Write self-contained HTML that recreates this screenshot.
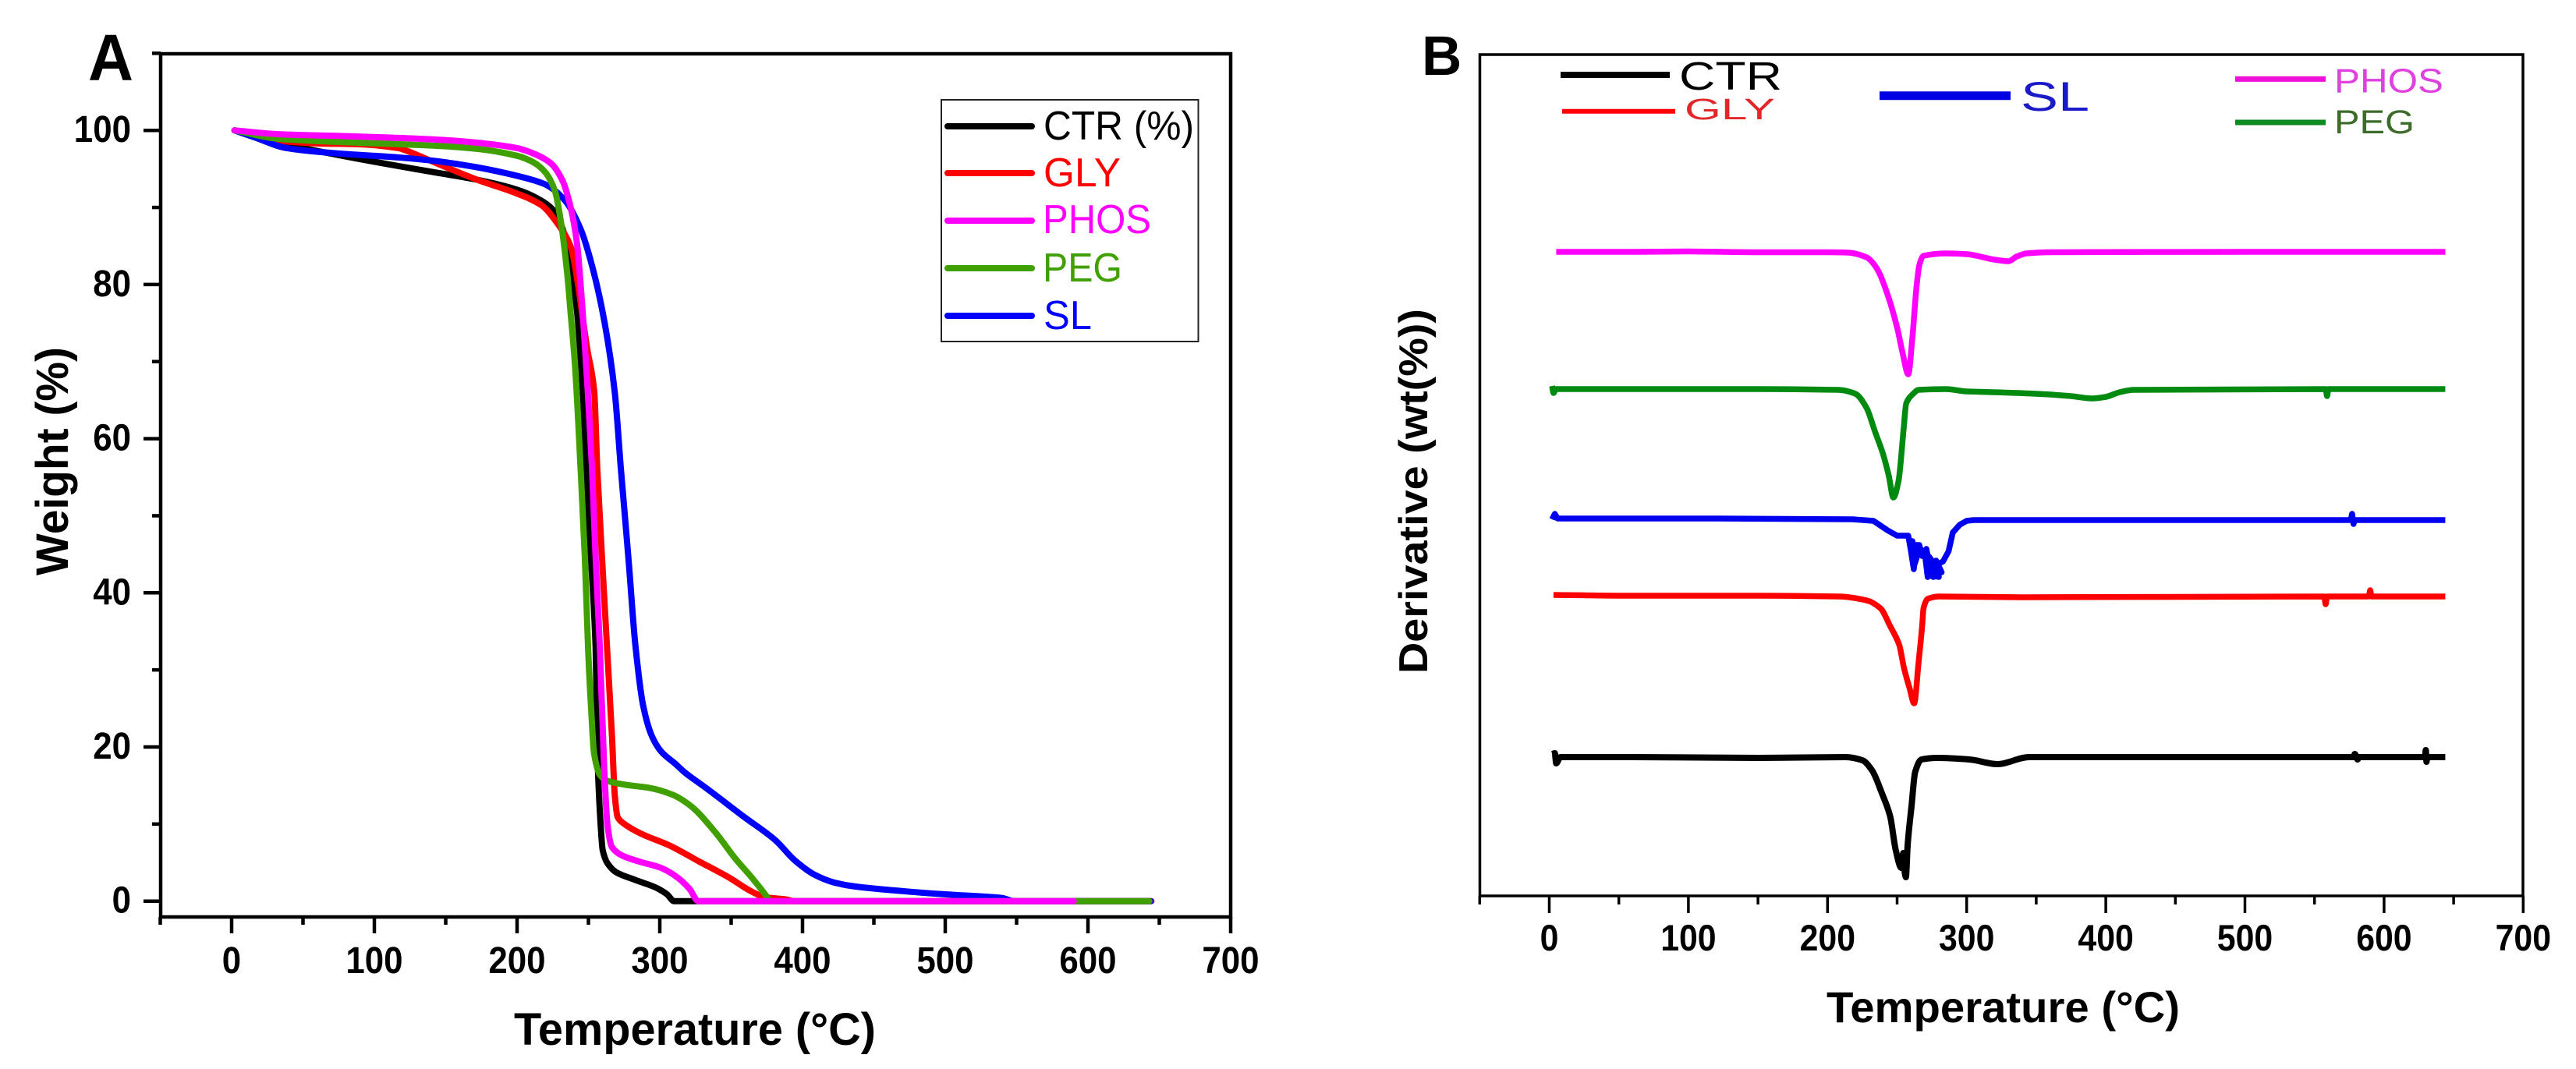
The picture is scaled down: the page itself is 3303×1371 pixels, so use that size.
<!DOCTYPE html>
<html lang="en">
<head>
<meta charset="utf-8">
<title>TGA and DTG curves</title>
<style>
html,body{margin:0;padding:0;background:#fff;}
svg{display:block;}
text{font-family:"Liberation Sans",sans-serif;}
</style>
</head>
<body>
<svg id="figure" xmlns="http://www.w3.org/2000/svg" width="3303" height="1371" viewBox="0 0 3303 1371">
  <rect width="3303" height="1371" fill="#fff"/>

  <g id="panel-a">
    <text x="113" y="103" font-size="84" font-weight="bold" textLength="58" lengthAdjust="spacingAndGlyphs">A</text>
    <rect x="206" y="69" width="1372" height="1107" fill="none" stroke="#000" stroke-width="4.5"/>
    <g id="a-ticks"></g>
    <g id="a-series"></g>
    <text x="659" y="1340" font-size="58" font-weight="bold" textLength="464" lengthAdjust="spacingAndGlyphs">Temperature (°C)</text>
    <text transform="translate(87,738) rotate(-90)" x="0" y="0" font-size="58" font-weight="bold" textLength="293" lengthAdjust="spacingAndGlyphs">Weight (%)</text>
    <g>
      <rect x="1207" y="128" width="329.5" height="310" fill="#fff" stroke="#222" stroke-width="2"/>
      <line x1="1215" x2="1323" y1="162" y2="162" stroke="#000" stroke-width="8" stroke-linecap="round"/>
      <text x="1338" y="179" font-size="52" fill="#000" textLength="193" lengthAdjust="spacingAndGlyphs">CTR (%)</text>
      <line x1="1215" x2="1323" y1="222" y2="222" stroke="#ff0000" stroke-width="8" stroke-linecap="round"/>
      <text x="1338" y="239" font-size="52" fill="#ff0000" textLength="99" lengthAdjust="spacingAndGlyphs">GLY</text>
      <line x1="1215" x2="1323" y1="283" y2="283" stroke="#ff00ff" stroke-width="8" stroke-linecap="round"/>
      <text x="1337" y="299" font-size="52" fill="#ff00ff" textLength="139" lengthAdjust="spacingAndGlyphs">PHOS</text>
      <line x1="1215" x2="1323" y1="344" y2="344" stroke="#40a000" stroke-width="8" stroke-linecap="round"/>
      <text x="1337" y="361" font-size="52" fill="#40a000" textLength="102" lengthAdjust="spacingAndGlyphs">PEG</text>
      <line x1="1215" x2="1323" y1="405" y2="405" stroke="#0000ff" stroke-width="8" stroke-linecap="round"/>
      <text x="1338" y="422" font-size="52" fill="#0000ff" textLength="62" lengthAdjust="spacingAndGlyphs">SL</text>
    </g>
  </g>

  <g id="panel-b">
    <text x="1823" y="96" font-size="71" font-weight="bold">B</text>
    <rect x="1897.5" y="70" width="1337.5" height="1079" fill="none" stroke="#000" stroke-width="3.5"/>
    <g id="b-ticks"></g>
    <g id="b-series"></g>
    <text x="2342" y="1311" font-size="56" font-weight="bold" textLength="453" lengthAdjust="spacingAndGlyphs">Temperature (°C)</text>
    <text transform="translate(1830,864) rotate(-90)" x="0" y="0" font-size="52" font-weight="bold" textLength="468" lengthAdjust="spacingAndGlyphs">Derivative (wt(%))</text>
    <g>
      <line x1="2001" x2="2141" y1="96" y2="96" stroke="#000" stroke-width="8"/>
      <text x="2153" y="115" font-size="51" fill="#000" textLength="132" lengthAdjust="spacingAndGlyphs">CTR</text>
      <line x1="2003" x2="2148" y1="142.7" y2="142.7" stroke="#ff0000" stroke-width="6"/>
      <text x="2160" y="153" font-size="38" fill="#e3262a" textLength="116" lengthAdjust="spacingAndGlyphs">GLY</text>
      <line x1="2410" x2="2578" y1="122.7" y2="122.7" stroke="#0000e0" stroke-width="11"/>
      <text x="2591" y="142" font-size="53" fill="#1a1ac8" textLength="88" lengthAdjust="spacingAndGlyphs">SL</text>
      <line x1="2866" x2="2982" y1="101.4" y2="101.4" stroke="#f010d8" stroke-width="7"/>
      <text x="2993" y="118.6" font-size="44" fill="#e040e0" textLength="140" lengthAdjust="spacingAndGlyphs">PHOS</text>
      <line x1="2866" x2="2982" y1="157" y2="157" stroke="#0d8a20" stroke-width="7"/>
      <text x="2993" y="171" font-size="43" fill="#3d6b2a" textLength="103" lengthAdjust="spacingAndGlyphs">PEG</text>
    </g>
  </g>
</svg>

<script>
// ----- Shared axis tick data -----
const xMajorTicks = [0, 100, 200, 300, 400, 500, 600, 700];
const xMinorTicks = [-50, 50, 150, 250, 350, 450, 550, 650];
const yMajorTicks = [0, 20, 40, 60, 80, 100];
const yMinorTicks = [10, 30, 50, 70, 90, 110];

// ----- Panel A: weight (%) vs temperature -----
const ctrTempA = [2, 16, 33, 74.7, 116, 144, 172, 200, 214, 226.6, 235, 239, 242, 246, 248.6, 251.8, 255, 256.6, 258, 260, 263.4, 269.4, 282, 296.7, 305, 310, 643];
const ctrWeightA = [100, 99.3, 98.4, 96.8, 95.4, 94.5, 93.6, 92.3, 91.2, 89.4, 85.3, 80.8, 76.5, 66.3, 56.2, 44.6, 33, 17.5, 11.7, 6.6, 4.9, 3.75, 2.8, 1.8, 0.9, 0, 0];

const glyTempA = [2, 27, 60.8, 88.7, 116.5, 130, 144, 172, 200, 217, 228, 237.8, 242, 249, 254, 256.2, 259.5, 263, 266.5, 268.5, 270.5, 273.8, 286.3, 307, 328, 349, 363.7, 374, 389, 394, 644.5];
const glyWeightA = [100, 98.8, 98.3, 98.2, 97.7, 96.8, 95.7, 93.6, 91.8, 90.3, 88, 84.8, 80.8, 71.8, 66.3, 56.2, 44.6, 33, 21.4, 13.6, 10.9, 10.2, 8.8, 7.2, 5.1, 3, 1.3, 0.5, 0.2, 0, 0];

const slTempA = [2, 16, 38.5, 74.7, 116, 144, 172, 200, 219.6, 233.6, 244.7, 253, 261.5, 268.5, 272.7, 278, 283, 288.4, 294.5, 301, 311, 317.5, 333, 358.5, 381, 394.5, 408.7, 422.4, 436.6, 470, 498, 540, 548, 644];
const slWeightA = [100, 99.1, 97.7, 97, 96.5, 96, 95.2, 94.1, 93, 90.9, 87.1, 82.1, 74.9, 65.9, 56.2, 44.6, 33, 25.3, 21.4, 19.4, 17.8, 16.7, 14.6, 11, 7.9, 5.3, 3.4, 2.4, 1.9, 1.3, 0.9, 0.4, 0, 0];

const pegTempA = [2, 33, 88.7, 144, 172, 200, 211, 219.6, 226.6, 230.8, 235, 237.5, 240.6, 244.5, 247.5, 249.7, 251.8, 254, 258, 263.4, 275.8, 292.6, 309, 322, 338.6, 353, 365.6, 376, 377, 643];
const pegWeightA = [100, 98.9, 98.4, 98, 97.6, 96.7, 95.9, 94.6, 92.1, 88, 81.7, 76.4, 69.5, 56.2, 44.6, 33, 25.3, 19.1, 16.4, 15.6, 15.1, 14.7, 13.8, 12.3, 9, 5.5, 2.8, 0.3, 0, 0];

const phosTempA = [2, 33, 88.7, 144, 172, 200, 214, 223.8, 232, 237.8, 242, 246, 249.5, 252.5, 255, 258, 261, 263.4, 266.5, 273.8, 286.3, 301, 311.5, 320.8, 327, 590];
const phosWeightA = [100, 99.5, 99.2, 98.8, 98.4, 97.7, 96.8, 95.7, 93.4, 89.8, 85.3, 76.3, 66.3, 56.2, 44.6, 33, 17.5, 9.8, 7, 5.9, 5.1, 4.3, 3.2, 1.6, 0, 0];

// ----- Panel B: derivative curves (arbitrary offset units) -----
const phosTempB = [5, 30, 60, 100, 150, 200, 215, 228, 235, 243, 250, 254, 258, 261, 264, 266, 269, 285, 300, 320, 330, 336, 343, 360, 500, 644];
const phosDerivB = [82.6, 82.6, 82.6, 82.65, 82.55, 82.55, 82.5, 81.9, 80.6, 77.2, 72.9, 69.6, 66.9, 71.6, 78.2, 80.9, 82.1, 82.4, 82.3, 81.6, 81.4, 82, 82.4, 82.55, 82.6, 82.6];

const pegTempB = [2, 3, 5, 90, 150, 208, 220, 228, 234, 240, 244, 247.3, 251, 254.7, 256.6, 261.6, 265.4, 285, 300, 320, 350, 375, 390, 400, 410, 420, 558, 559, 560, 644];
const pegDerivB = [65.4, 64.5, 65, 65, 65, 64.9, 64.4, 62.6, 59.6, 56.6, 53.9, 51.1, 53.2, 59.9, 63.2, 64.4, 64.9, 65, 64.7, 64.6, 64.4, 64.1, 63.8, 64, 64.6, 64.9, 65, 64.1, 65, 65];

const slTempB = [2, 4, 6, 40, 120, 218, 233, 243, 250, 258, 260, 262, 263, 261, 263, 265, 262.5, 264, 266, 268, 266, 270, 272, 270, 273, 271, 275, 273, 277, 276, 279, 277, 280, 278, 282, 279, 283, 287, 290, 295, 300, 305, 350, 470, 576, 577, 578, 579, 644];
const slDerivB = [48.3, 49, 48.4, 48.4, 48.4, 48.3, 48.1, 46.9, 46.2, 46.2, 44.2, 41.9, 43.5, 45.5, 44.2, 43.9, 42.5, 45, 45, 43.6, 44.6, 44, 40.9, 43.8, 42.5, 44.5, 41, 43.5, 42.5, 40.9, 42.3, 41, 40.9, 43, 41.5, 42.5, 42.9, 44.2, 46.6, 47.6, 48.1, 48.2, 48.2, 48.2, 48.2, 49, 47.7, 48.2, 48.2];

const glyTempB = [3, 60, 150, 208, 228, 238, 245, 251.5, 255, 259, 262.3, 265.4, 268, 269, 272, 280, 340, 557, 558, 559, 589, 590, 591, 644];
const glyDerivB = [38.6, 38.5, 38.5, 38.4, 37.9, 36.9, 34.6, 32.2, 29.2, 26.6, 24.7, 29.9, 34.6, 36.9, 38.1, 38.4, 38.3, 38.4, 37.4, 38.4, 38.4, 39.2, 38.4, 38.4];

const ctrTempB = [2, 4, 5, 8, 60, 150, 213, 225, 232, 239, 245, 249, 253, 254.5, 255.5, 256.3, 257.6, 260.4, 263, 267.5, 279, 302, 322, 345, 450, 578, 579, 581, 582, 629.5, 630, 630.5, 631, 644];
const ctrDerivB = [18.2, 18.3, 17, 17.8, 17.8, 17.7, 17.8, 17.4, 16.1, 13.2, 10.2, 5.9, 3.6, 5.5, 3, 2.4, 6.6, 11.6, 15.9, 17.5, 17.7, 17.5, 16.9, 17.8, 17.8, 17.8, 18.2, 17.5, 17.8, 17.8, 18.7, 17.2, 17.8, 17.8];

// ----- Axis functions -----
function xA(t) { return 297 + 1.83 * t; }
function yA(w) { return 1155.7 - 9.885 * w; }
function xB(t) { return 1986.5 + 1.784 * t; }
function yB(d) { return 1149 - 10 * d; }

const svgNS = 'http://www.w3.org/2000/svg';

function makeLine(parent, x1, y1, x2, y2, width) {
  const el = document.createElementNS(svgNS, 'line');
  el.setAttribute('x1', x1);
  el.setAttribute('y1', y1);
  el.setAttribute('x2', x2);
  el.setAttribute('y2', y2);
  el.setAttribute('stroke', '#000');
  el.setAttribute('stroke-width', width);
  parent.appendChild(el);
  return el;
}

function makeLabel(parent, x, y, str, anchor, size, charWidth) {
  const el = document.createElementNS(svgNS, 'text');
  el.setAttribute('x', x);
  el.setAttribute('y', y);
  el.setAttribute('text-anchor', anchor);
  el.setAttribute('font-size', size);
  el.setAttribute('font-weight', 'bold');
  el.setAttribute('textLength', str.length * charWidth);
  el.setAttribute('lengthAdjust', 'spacingAndGlyphs');
  el.textContent = str;
  parent.appendChild(el);
  return el;
}

// Monotone cubic path through the points (T strictly increasing) or plain polyline.
function curvePath(px, py, smooth) {
  let d = 'M' + px[0].toFixed(1) + ' ' + py[0].toFixed(1);
  const n = px.length;
  if (!smooth) {
    for (let i = 1; i < n; i++) d += 'L' + px[i].toFixed(1) + ' ' + py[i].toFixed(1);
    return d;
  }
  const sec = [];
  for (let i = 0; i < n - 1; i++) sec.push((py[i + 1] - py[i]) / (px[i + 1] - px[i]));
  const tan = [sec[0]];
  for (let i = 1; i < n - 1; i++) {
    tan.push(sec[i - 1] * sec[i] <= 0 ? 0 : 2 * sec[i - 1] * sec[i] / (sec[i - 1] + sec[i]));
  }
  tan.push(sec[n - 2]);
  for (let i = 0; i < n - 1; i++) {
    const h = (px[i + 1] - px[i]) / 3;
    d += 'C' + (px[i] + h).toFixed(1) + ' ' + (py[i] + tan[i] * h).toFixed(1) + ' ' +
         (px[i + 1] - h).toFixed(1) + ' ' + (py[i + 1] - tan[i + 1] * h).toFixed(1) + ' ' +
         px[i + 1].toFixed(1) + ' ' + py[i + 1].toFixed(1);
  }
  return d;
}

function makeCurve(parent, temps, values, xFn, yFn, color, width, cap, smooth) {
  const el = document.createElementNS(svgNS, 'path');
  el.setAttribute('d', curvePath(temps.map(xFn), values.map(yFn), smooth));
  el.setAttribute('fill', 'none');
  el.setAttribute('stroke', color);
  el.setAttribute('stroke-width', width);
  el.setAttribute('stroke-linejoin', 'round');
  el.setAttribute('stroke-linecap', cap);
  parent.appendChild(el);
  return el;
}

// ----- Panel A axes -----
const aTicks = document.getElementById('a-ticks');
xMajorTicks.forEach(function (t) {
  const tick = makeLine(aTicks, xA(t), 1176, xA(t), 1197, 4.5);
  
  
  const label = makeLabel(aTicks, xA(t), 1248, String(t), 'middle', 48, 24.4);
  
  
});
xMinorTicks.forEach(function (t) {
  const tick = makeLine(aTicks, xA(t), 1176, xA(t), 1186, 4.5);
  
  
});
yMajorTicks.forEach(function (w) {
  const tick = makeLine(aTicks, 184, yA(w), 206, yA(w), 4.5);
  
  
  const label = makeLabel(aTicks, 168, yA(w) + 15, String(w), 'end', 48, 24.4);
  
  
});
yMinorTicks.forEach(function (w) {
  const tick = makeLine(aTicks, 195, yA(w), 206, yA(w), 4.5);
  
  
});

// ----- Panel A curves -----
const aSeries = document.getElementById('a-series');
const curveCtrA = makeCurve(aSeries, ctrTempA, ctrWeightA, xA, yA, '#000000', 8, 'round', true);


const curveGlyA = makeCurve(aSeries, glyTempA, glyWeightA, xA, yA, '#ff0000', 8, 'round', true);


const curveSlA = makeCurve(aSeries, slTempA, slWeightA, xA, yA, '#0000ff', 8, 'round', true);


const curvePegA = makeCurve(aSeries, pegTempA, pegWeightA, xA, yA, '#40a000', 8, 'round', true);


const curvePhosA = makeCurve(aSeries, phosTempA, phosWeightA, xA, yA, '#ff00ff', 8, 'round', true);



// ----- Panel B axes -----
const bTicks = document.getElementById('b-ticks');
xMajorTicks.forEach(function (t) {
  const tick = makeLine(bTicks, xB(t), 1149, xB(t), 1171, 3.5);
  
  
  const label = makeLabel(bTicks, xB(t), 1219, String(t), 'middle', 47, 23.8);
  
  
});
xMinorTicks.forEach(function (t) {
  const tick = makeLine(bTicks, xB(t), 1149, xB(t), 1160, 3.5);
  
  
});

// ----- Panel B curves -----
const bSeries = document.getElementById('b-series');
const curvePhosB = makeCurve(bSeries, phosTempB, phosDerivB, xB, yB, '#ff00ff', 7.5, 'butt', true);


const curvePegB = makeCurve(bSeries, pegTempB, pegDerivB, xB, yB, '#008a10', 7.5, 'butt', true);


const curveSlB = makeCurve(bSeries, slTempB, slDerivB, xB, yB, '#0000f0', 7.5, 'butt', false);


const curveGlyB = makeCurve(bSeries, glyTempB, glyDerivB, xB, yB, '#ff0000', 7.5, 'butt', true);


const curveCtrB = makeCurve(bSeries, ctrTempB, ctrDerivB, xB, yB, '#000000', 8, 'butt', true);


</script>
</body>
</html>
